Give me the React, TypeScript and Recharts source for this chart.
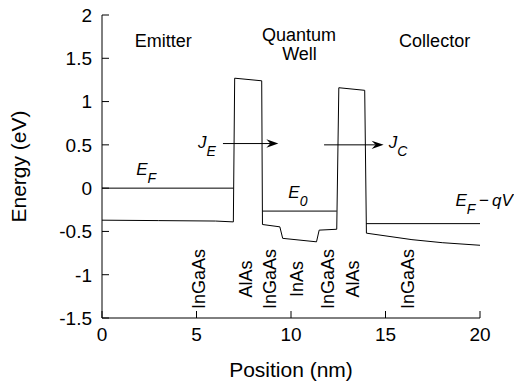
import React from 'react';
import { LineChart, Line, XAxis, YAxis, ReferenceDot, ReferenceLine, Label } from 'recharts';

const FONT = '"Liberation Sans", Arial, Helvetica, sans-serif';

const xTicks = [0, 5, 10, 15, 20];
const yTicks = [-1.5, -1, -0.5, 0, 0.5, 1, 1.5, 2];

// conduction band edge profile
const bandX = [0, 3, 6, 6.95, 7.02, 8.45, 8.49, 9.41, 9.56, 11.35, 11.49, 12.42, 12.53, 13.9, 13.99, 16.4, 18, 20];
const bandE = [-0.37, -0.375, -0.38, -0.39, 1.27, 1.24, -0.42, -0.447, -0.58, -0.62, -0.485, -0.475, 1.16, 1.13, -0.52, -0.595, -0.63, -0.66];

const emitterFermiX = [0, 6.96];
const emitterFermiE = [0, 0];
const wellLevelX = [8.49, 12.42];
const wellLevelE = [-0.265, -0.265];
const collectorFermiX = [13.98, 20];
const collectorFermiE = [-0.41, -0.41];

// arrows
const arrowJEX = [6.4, 9.33];
const arrowJEY = 0.515;
const arrowJCX = [11.75, 14.9];
const arrowJCY = 0.5;

// layer material labels
const layerNames = ['InGaAs', 'AlAs', 'InGaAs', 'InAs', 'InGaAs', 'AlAs', 'InGaAs'];
const layerX = [5.1, 7.6, 8.84, 10.3, 11.92, 13.24, 16.15];
const layerY = -1.05;

// region labels
const regionNames = ['Emitter', 'Quantum', 'Well', 'Collector'];
const regionX = [3.24, 10.42, 10.45, 17.6];
const regionY = [1.7, 1.78, 1.55, 1.7];

// symbolic labels: main, subscript, rest, x, y (baseline start)
const symMain = ['E', 'J', 'J', 'E', 'E'];
const symSub = ['F', 'E', 'C', '0', 'F'];
const symRest = ['', '', '', '', '\u2009\u2212\u2009qV'];
const symX = [1.81, 5.08, 15.17, 9.86, 18.7];
const symY = [0.15, 0.462, 0.462, -0.119, -0.21];

const pts = (xs: number[], es: number[]) => xs.map((x, i) => ({ x, e: es[i] }));

const XTick = (props: any) => {
  const { x, y, payload } = props;
  const ay = y - 10;
  return (
    <g>
      <line x1={x} x2={x} y1={ay} y2={ay - 7} stroke="#000" strokeWidth={1} />
      <text x={x} y={y} dy="0.71em" textAnchor="middle" fontFamily={FONT} fontSize={19} fill="#000">
        {payload.value}
      </text>
    </g>
  );
};

const YTick = (props: any) => {
  const { x, y, payload } = props;
  const ax = x + 10;
  return (
    <g>
      <line x1={ax} x2={ax + 7} y1={y} y2={y} stroke="#000" strokeWidth={1} />
      <text x={x} y={y} dy="0.36em" textAnchor="end" fontFamily={FONT} fontSize={19} fill="#000">
        {payload.value}
      </text>
    </g>
  );
};

const Arrow = (p: any) => {
  const { x1, y1, x2, y2 } = p;
  const L = 12, W = 4.2, B = 8;
  return (
    <g>
      <line x1={x1} y1={y1} x2={x2 - B} y2={y2} stroke="#000" strokeWidth={1} />
      <path d={`M${x2},${y2} L${x2 - L},${y2 - W} L${x2 - B},${y2} L${x2 - L},${y2 + W} Z`} fill="#000" />
    </g>
  );
};

const rotatedText = (s: string) => (p: any) => (
  <text
    x={p.cx}
    y={p.cy}
    dy="0.36em"
    textAnchor="middle"
    transform={`rotate(-90, ${p.cx}, ${p.cy})`}
    fontFamily={FONT}
    fontSize={18}
    fill="#000"
  >
    {s}
  </text>
);

const plainText = (s: string) => (p: any) => (
  <text x={p.cx} y={p.cy} dy="0.36em" textAnchor="middle" fontFamily={FONT} fontSize={18} fill="#000">
    {s}
  </text>
);

const symText = (i: number) => (p: any) => (
  <text x={p.cx} y={p.cy} fontFamily={FONT} fontSize={17} fontStyle="italic" fill="#000">
    {symMain[i]}
    <tspan dy={8} fontSize={14}>{symSub[i]}</tspan>
    {symRest[i] ? <tspan dy={-8} fontSize={17}>{symRest[i]}</tspan> : null}
  </text>
);

const lineProps = {
  type: 'linear' as const,
  dataKey: 'e',
  stroke: '#000',
  strokeWidth: 1,
  dot: false,
  activeDot: false,
  isAnimationActive: false,
};

export default function App() {
  return (
    <div style={{ width: 514, height: 381 }}>
      <style>{`svg { overflow: visible; }`}</style>
      <LineChart width={514} height={381} margin={{ top: 7, right: 42, bottom: 31, left: 0 }}>
        <XAxis
          dataKey="x"
          type="number"
          domain={[0, 20]}
          ticks={xTicks}
          interval={0}
          tickLine={false}
          tickSize={6}
          tickMargin={4}
          tick={<XTick />}
          axisLine={{ stroke: '#000' }}
          height={40}
          allowDataOverflow
        >
          <Label value="Position (nm)" position="bottom" offset={4} style={{ fontFamily: FONT, fontSize: 21, fill: '#000' }} />
        </XAxis>
        <YAxis
          type="number"
          domain={[-1.5, 2]}
          ticks={yTicks}
          interval={0}
          tickLine={false}
          tickSize={6}
          tickMargin={4}
          tick={<YTick />}
          axisLine={{ stroke: '#000' }}
          width={94}
          allowDataOverflow
        >
          <Label
            value="Energy (eV)"
            angle={-90}
            position="insideLeft"
            offset={11}
            style={{ fontFamily: FONT, fontSize: 21, fill: '#000', textAnchor: 'middle' }}
          />
        </YAxis>

        <Line {...lineProps} data={pts(bandX, bandE)} />
        <Line {...lineProps} data={pts(emitterFermiX, emitterFermiE)} />
        <Line {...lineProps} data={pts(wellLevelX, wellLevelE)} />
        <Line {...lineProps} data={pts(collectorFermiX, collectorFermiE)} />

        <ReferenceLine segment={[{ x: arrowJEX[0], y: arrowJEY }, { x: arrowJEX[1], y: arrowJEY }]} shape={Arrow} />
        <ReferenceLine segment={[{ x: arrowJCX[0], y: arrowJCY }, { x: arrowJCX[1], y: arrowJCY }]} shape={Arrow} />

        {layerNames.map((n, i) => (
          <ReferenceDot key={'l' + i} x={layerX[i]} y={layerY} r={0} shape={rotatedText(n)} />
        ))}
        {regionNames.map((n, i) => (
          <ReferenceDot key={'r' + i} x={regionX[i]} y={regionY[i]} r={0} shape={plainText(n)} />
        ))}
        {symMain.map((_, i) => (
          <ReferenceDot key={'s' + i} x={symX[i]} y={symY[i]} r={0} shape={symText(i)} />
        ))}
      </LineChart>
    </div>
  );
}
